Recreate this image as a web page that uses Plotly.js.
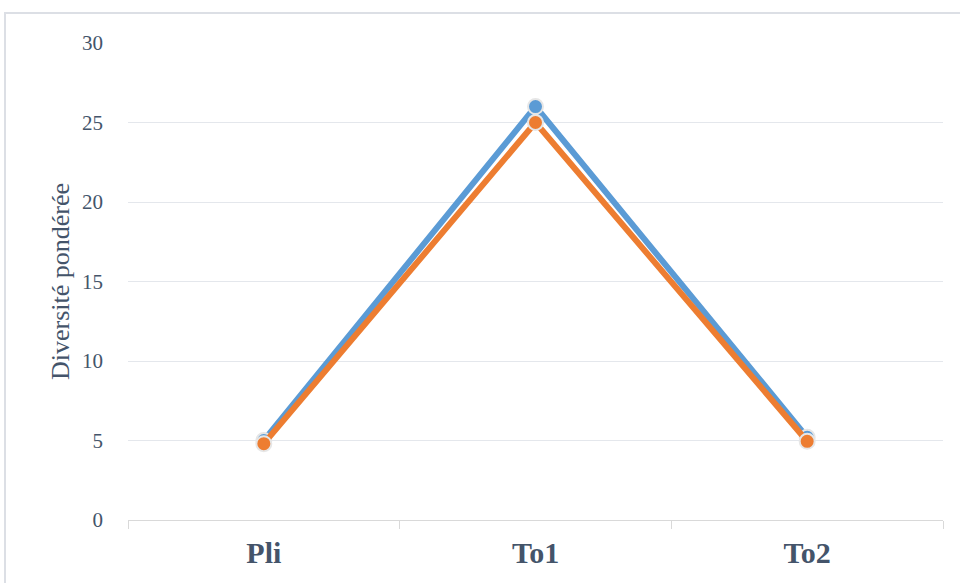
<!DOCTYPE html>
<html>
<head>
<meta charset="utf-8">
<script src="https://cdn.plot.ly/plotly-3.0.1.min.js"></script>
<style>html,body{margin:0;padding:0;background:#fff;}#chart{width:960px;height:583px;}</style>
</head>
<body>
<div id="chart"></div>
<script>
const categories = ["Pli", "To1", "To2"];
const seriesBlue = [5.0, 26.0, 5.2];
const seriesOrange = [4.8, 25.0, 4.95];
const yTicks = [0, 5, 10, 15, 20, 25, 30];

const font = "'Liberation Serif', 'Times New Roman', serif";
const slate = "#44546a";

const traces = [
  {x: categories, y: seriesBlue, type: "scatter", mode: "lines+markers", name: "A",
   line: {color: "#5b9bd5", width: 6},
   marker: {color: "#5b9bd5", size: 15, line: {color: "#e6e6e6", width: 2}}},
  {x: categories, y: seriesOrange, type: "scatter", mode: "lines+markers", name: "B",
   line: {color: "#ed7d31", width: 6},
   marker: {color: "#ed7d31", size: 15, line: {color: "#e6e6e6", width: 2}}}
];

const layout = {
  width: 960, height: 583,
  margin: {l: 128, r: 17, t: 43, b: 63},
  paper_bgcolor: "#fff", plot_bgcolor: "#fff",
  showlegend: false,
  font: {family: font, color: slate},
  xaxis: {
    type: "category", tickson: "boundaries", ticks: "outside", ticklen: 8, tickcolor: "#d9d9d9",
    showgrid: false, showline: true, linecolor: "#d9d9d9", linewidth: 1,
    tickfont: {family: font, size: 30, color: slate, weight: "bold"},
    ticklabelstandoff: 6,
    range: [-0.5, 2.5], fixedrange: true
  },
  yaxis: {
    range: [0, 30], tickvals: yTicks, ticktext: yTicks.map(String),
    showgrid: true, gridcolor: "#e4e7ec", gridwidth: 1, zeroline: false, showline: false,
    ticks: "", ticklabelstandoff: 24,
    tickfont: {family: font, size: 21, color: slate},
    title: {text: "Diversité pondérée", font: {family: font, size: 26, color: slate}, standoff: 4}
  },
  shapes: [{
    type: "rect", xref: "paper", yref: "paper",
    x0: -0.1509, x1: 1.03, y0: -0.16, y1: 1.0629,
    line: {color: "#dcdfe5", width: 2}, fillcolor: "rgba(0,0,0,0)", layer: "below"
  }]
};

Plotly.newPlot("chart", traces, layout, {displayModeBar: false, staticPlot: true});
</script>
</body>
</html>
